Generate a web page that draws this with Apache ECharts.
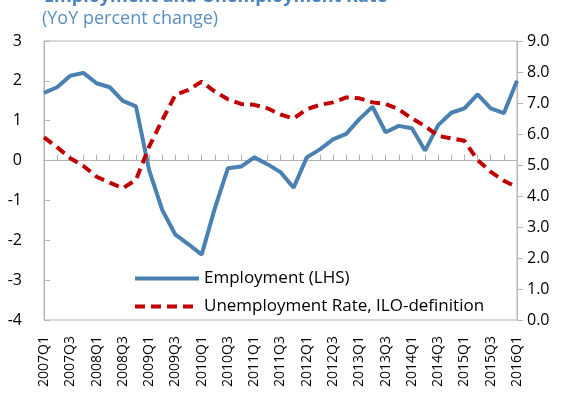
<!DOCTYPE html>
<html>
<head>
<meta charset="utf-8">
<script src="https://cdn.jsdelivr.net/npm/echarts@6/dist/echarts.min.js"></script>
<style>
  html, body { margin: 0; padding: 0; background: #fff; }
  #chart { width: 569px; height: 400px; }
</style>
</head>
<body>
<div id="chart"></div>
<script>
// quarters 2007Q1 .. 2016Q1
const quarters = [
  '2007Q1','2007Q2','2007Q3','2007Q4','2008Q1','2008Q2','2008Q3','2008Q4',
  '2009Q1','2009Q2','2009Q3','2009Q4','2010Q1','2010Q2','2010Q3','2010Q4',
  '2011Q1','2011Q2','2011Q3','2011Q4','2012Q1','2012Q2','2012Q3','2012Q4',
  '2013Q1','2013Q2','2013Q3','2013Q4','2014Q1','2014Q2','2014Q3','2014Q4',
  '2015Q1','2015Q2','2015Q3','2015Q4','2016Q1'
]
// YoY % change (LHS)
const employment = [
  1.70, 1.84, 2.13, 2.20, 1.94, 1.84, 1.50, 1.36,
  -0.24, -1.24, -1.86, -2.10, -2.36, -1.20, -0.19, -0.15,
  0.08, -0.09, -0.29, -0.68, 0.08, 0.28, 0.53, 0.67,
  1.04, 1.35, 0.71, 0.87, 0.81, 0.25, 0.89, 1.20,
  1.31, 1.66, 1.31, 1.19, 2.00
]
// unemployment rate % (RHS)
const unemployment = [
  5.89, 5.57, 5.22, 4.97, 4.62, 4.43, 4.25, 4.52,
  5.59, 6.45, 7.26, 7.42, 7.69, 7.37, 7.12, 6.97,
  6.94, 6.83, 6.63, 6.50, 6.80, 6.94, 7.02, 7.18,
  7.15, 7.02, 6.97, 6.80, 6.50, 6.26, 5.94, 5.86,
  5.78, 5.16, 4.78, 4.49, 4.28
]

const font = "'Open Sans', 'Noto Sans', sans-serif"
const chart = echarts.init(document.getElementById('chart'))

const option = {
  animation: false,
  textStyle: { fontFamily: font },
  graphic: [
    {
      type: 'text', left: 44, top: -12,
      style: { text: 'Employment and Unemployment Rate', fill: '#4a86bd', font: "bold 18px " + font }
    },
    {
      type: 'text', left: 42, top: 10,
      style: { text: '(YoY percent change)', fill: '#5b8fc0', font: "18px " + font }
    }
  ],
  grid: {
    left: 44, right: 52, top: 41, bottom: 80,
    show: true, borderColor: '#b4b4b4', borderWidth: 1
  },
  legend: {
    orient: 'vertical',
    left: 128, top: 265,
    itemWidth: 64, itemHeight: 14, itemGap: 11,
    itemStyle: { opacity: 0 },
    lineStyle: { width: 4 },
    textStyle: { fontSize: 17, color: '#000', fontFamily: font },
    data: ['Employment (LHS)', 'Unemployment Rate, ILO-definition']
  },
  xAxis: [
    {
      type: 'category',
      data: quarters,
      boundaryGap: false,
      axisLine: { onZero: false, show: false },
      axisTick: { show: false },
      axisLabel: { interval: 1, rotate: 90, margin: 16, fontSize: 14, color: '#000' }
    },
    {
      type: 'category',
      data: quarters,
      boundaryGap: false,
      position: 'bottom',
      axisLine: { onZero: true, lineStyle: { color: '#b4b4b4', width: 1 } },
      axisTick: { inside: true, length: 6, interval: 0, lineStyle: { color: '#b4b4b4' } },
      axisLabel: { show: false }
    }
  ],
  yAxis: [
    {
      type: 'value', min: -4, max: 3, interval: 1,
      splitLine: { show: false },
      axisLine: { show: true, lineStyle: { color: '#b4b4b4' } },
      axisTick: { show: true, inside: true, length: 6, lineStyle: { color: '#b4b4b4' } },
      axisLabel: { fontSize: 16, color: '#000', margin: 22 }
    },
    {
      type: 'value', min: 0, max: 9, interval: 1,
      splitLine: { show: false },
      axisLine: { show: true, lineStyle: { color: '#b4b4b4' } },
      axisTick: { show: true, length: 6, lineStyle: { color: '#b4b4b4' } },
      axisLabel: { fontSize: 16, color: '#000', margin: 10, formatter: v => v.toFixed(1) }
    }
  ],
  series: [
    {
      name: 'Employment (LHS)',
      type: 'line',
      xAxisIndex: 0, yAxisIndex: 0,
      data: employment,
      symbol: 'none',
      lineStyle: { color: '#4a80b2', width: 4 },
      itemStyle: { color: '#4a80b2' }
    },
    {
      name: 'Unemployment Rate, ILO-definition',
      type: 'line',
      xAxisIndex: 0, yAxisIndex: 1,
      data: unemployment,
      symbol: 'none',
      lineStyle: { color: '#c00000', width: 4, type: [10, 6] },
      itemStyle: { color: '#c00000' }
    }
  ]
}
chart.setOption(option)
</script>
</body>
</html>
